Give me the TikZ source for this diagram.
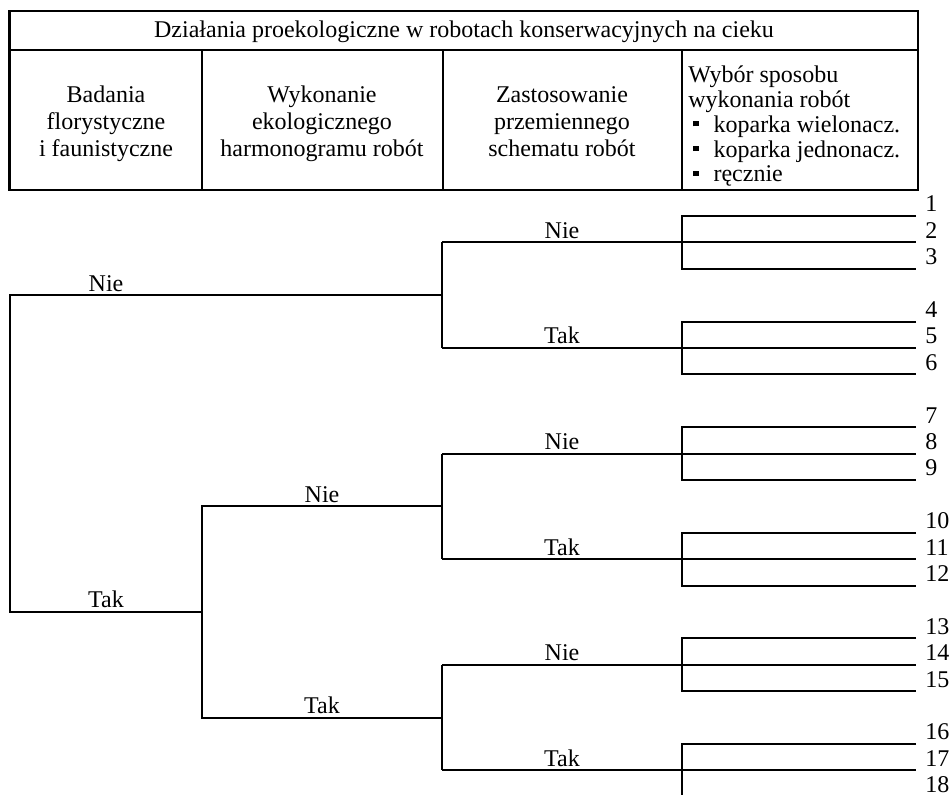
\documentclass[tikz,border=0pt]{standalone}
\usepackage{fontspec}
\setmainfont{Liberation Serif}
\definecolor{treeink}{HTML}{000000}
\newcommand\sqbullet{\hspace*{2.5pt}\rule[3pt]{2.6pt}{2.6pt}\hspace{7.5pt}}

\begin{document}
\begin{tikzpicture}[
  x=0.5pt, y=-0.5pt,
  line join=miter,
  frame/.style={draw=treeink,line width=1.2pt},
  branch/.style={draw=treeink,line width=1pt},
  headtext/.style={font=\fontsize{12}{13.5}\selectfont,align=center,inner sep=0pt,anchor=north},
  listtext/.style={font=\fontsize{12}{12.4}\selectfont,align=left,inner sep=0pt,anchor=north west},
  choice/.style={font=\fontsize{12}{14}\selectfont,inner sep=0pt,anchor=base},
  leafnum/.style={font=\fontsize{12}{14}\selectfont,inner sep=0pt,anchor=base west}
]
  \useasboundingbox (0,0) rectangle (950,795);
  \clip (0,0) rectangle (950,795);

  % table head
  \draw[frame] (9.5,11) rectangle (918,190);
  \draw[frame] (9.5,50) -- (918,50);
  \foreach \cx in {202,443,682} {
    \draw[frame] (\cx,50) -- (\cx,190);
  }

  \node[choice] (title) at (464,37.5)
    {Działania proekologiczne w robotach konserwacyjnych na cieku};
  \node[headtext] (colA) at (106,85.8) {Badania\\florystyczne\\i faunistyczne};
  \node[headtext] (colB) at (322,85.8) {Wykonanie\\ekologicznego\\harmonogramu robót};
  \node[headtext] (colC) at (562,85.8) {Zastosowanie\\przemiennego\\schematu robót};
  \node[listtext] (colD) at (688,65.6)
    {Wybór sposobu\\wykonania robót\\\sqbullet koparka wielonacz.\\\sqbullet koparka jednonacz.\\\sqbullet ręcznie};

  % leaves: groups of three
  \foreach \g in {0,...,5} {
    \pgfmathsetmacro\ytop{216+105.6*\g}
    \pgfmathsetmacro\ymid{\ytop+26.4}
    \pgfmathsetmacro\ybot{\ytop+52.8}
    \pgfmathtruncatemacro\na{3*\g+1}
    \pgfmathtruncatemacro\nb{3*\g+2}
    \pgfmathtruncatemacro\nc{3*\g+3}
    \draw[branch] (916,\ytop) -- (682,\ytop) -- (682,\ybot) -- (916,\ybot);
    \draw[branch] (442,\ymid) -- (916,\ymid);
    \node[leafnum] (num\na) at (925,\ytop-4) {\na};
    \node[leafnum] (num\nb) at (925,\ymid-4) {\nb};
    \node[leafnum] (num\nc) at (925,\ybot-4) {\nc};
  }

  % third level
  \draw[branch] (442,242.4) -- (442,348);
  \draw[branch] (442,453.6) -- (442,559.2);
  \draw[branch] (442,664.8) -- (442,770.4);
  \node[choice] (nieC1) at (562,238.4) {Nie};
  \node[choice] (takC1) at (562,344) {Tak};
  \node[choice] (nieC2) at (562,449.6) {Nie};
  \node[choice] (takC2) at (562,555.2) {Tak};
  \node[choice] (nieC3) at (562,660.8) {Nie};
  \node[choice] (takC3) at (562,766.4) {Tak};

  % second level
  \draw[branch] (442,506.4) -- (202,506.4) -- (202,717.6) -- (442,717.6);
  \node[choice] (nieB) at (322,502.4) {Nie};
  \node[choice] (takB) at (322,713.6) {Tak};

  % first level
  \draw[branch] (442,295.2) -- (9.5,295.2) -- (9.5,612) -- (202,612);
  \node[choice] (nieA) at (106,291.2) {Nie};
  \node[choice] (takA) at (106,608) {Tak};
\end{tikzpicture}
\end{document}
